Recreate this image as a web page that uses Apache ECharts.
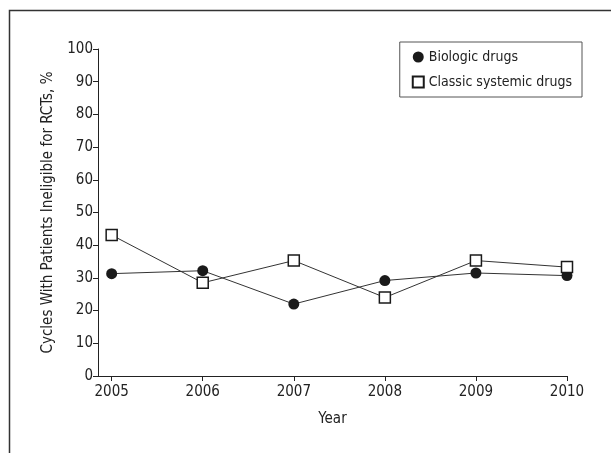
<!DOCTYPE html>
<html>
<head>
<meta charset="utf-8">
<script src="https://cdn.jsdelivr.net/npm/echarts@6/dist/echarts.min.js"></script>
<style>
  html, body { margin: 0; padding: 0; background: #fff; }
  #chart { width: 611px; height: 453px; }
</style>
</head>
<body>
<div id="chart"></div>
<script>
// years on the x axis
const years = [2005, 2006, 2007, 2008, 2009, 2010];
// percent of cycles with patients ineligible for RCTs
const biologic = [31.3, 32.2, 22.0, 29.2, 31.5, 30.7];
const classic = [43.1, 28.5, 35.3, 24.0, 35.3, 33.3];
const yTicks = [0, 10, 20, 30, 40, 50, 60, 70, 80, 90, 100];

const font = "'Liberation Sans Narrow', 'DejaVu Sans Condensed', sans-serif";
const ink = "#222";

const chart = echarts.init(document.getElementById("chart"));

const option = {
  backgroundColor: "#fff",
  animation: false,
  textStyle: { fontFamily: font, color: ink },
  graphic: [
    // frame round the figure (top and left edge only)
    {
      type: "polyline",
      shape: { points: [[9.5, 453], [9.5, 10.5], [611, 10.5]] },
      style: { stroke: "#333", lineWidth: 1.5, fill: null },
    },
  ],
  grid: { left: 98, right: 44, top: 49, bottom: 77 },
  legend: {
    right: 29,
    top: 42,
    orient: "vertical",
    itemGap: 11,
    itemWidth: 11,
    itemHeight: 11,
    padding: [8, 10, 8, 12],
    borderColor: "#555",
    borderWidth: 1,
    textStyle: { fontFamily: font, fontSize: 14, color: ink },
    data: [
      { name: "Biologic drugs", icon: "circle" },
      { name: "Classic systemic drugs", icon: "rect" },
    ],
  },
  xAxis: {
    type: "value",
    min: 2004.85,
    max: 2010,
    name: "Year",
    nameLocation: "middle",
    nameGap: 36,
    nameTextStyle: { fontFamily: font, fontSize: 15, color: ink },
    splitLine: { show: false },
    axisLine: { lineStyle: { color: ink, width: 1 } },
    axisTick: { customValues: years, length: 5, lineStyle: { color: ink } },
    axisLabel: {
      customValues: years,
      fontFamily: font,
      fontSize: 15,
      color: ink,
      margin: 9,
      formatter: (v) => String(v),
    },
  },
  yAxis: {
    type: "value",
    min: 0,
    max: 100,
    interval: 10,
    name: "Cycles With Patients Ineligible for RCTs, %",
    nameLocation: "middle",
    nameGap: 42,
    nameTextStyle: { fontFamily: font, fontSize: 15, color: ink },
    splitLine: { show: false },
    axisLine: { show: true, lineStyle: { color: ink, width: 1 } },
    axisTick: { show: true, length: 5, lineStyle: { color: ink } },
    axisLabel: {
      customValues: yTicks,
      fontFamily: font,
      fontSize: 15,
      color: ink,
      margin: 5,
    },
  },
  series: [
    {
      name: "Biologic drugs",
      type: "line",
      data: years.map((y, i) => [y, biologic[i]]),
      symbol: "circle",
      symbolSize: 11,
      lineStyle: { color: "#333", width: 1 },
      itemStyle: { color: "#1a1a1a", borderColor: "#1a1a1a", borderWidth: 0 },
      z: 3,
    },
    {
      name: "Classic systemic drugs",
      type: "line",
      data: years.map((y, i) => [y, classic[i]]),
      symbol: "rect",
      symbolSize: 11,
      lineStyle: { color: "#333", width: 1 },
      itemStyle: { color: "#fff", borderColor: "#1a1a1a", borderWidth: 1.5 },
      z: 4,
    },
  ],
};

chart.setOption(option);
</script>
</body>
</html>
